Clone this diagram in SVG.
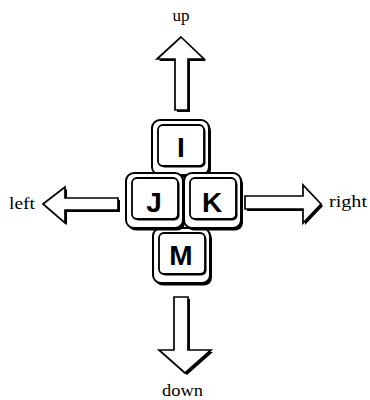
<svg xmlns="http://www.w3.org/2000/svg" xmlns:xlink="http://www.w3.org/1999/xlink" width="370" height="400" viewBox="0 0 370 400">
<style>
.lbl{font-family:"Liberation Serif","Times New Roman",serif;font-size:16.5px;fill:#000}
.key{font-family:"Liberation Sans",Arial,sans-serif;font-weight:bold;font-size:28px;fill:#000;text-anchor:middle}
.arr{fill:#fff;stroke:#000;stroke-width:1.7;stroke-linejoin:miter}
.shd{fill:#000}
</style>
<defs>
<g id="keycap">
<rect x="2" y="2.5" width="57" height="55" rx="8" fill="#000"/>
<rect x="0" y="0" width="57" height="55" rx="8" fill="#fff" stroke="#000" stroke-width="2"/>
<rect x="7.5" y="6.5" width="46" height="41" rx="5" fill="#000"/>
<rect x="6" y="5" width="46" height="41" rx="5" fill="#fff" stroke="#000" stroke-width="1.8"/>
</g>
</defs>
<rect width="370" height="400" fill="#fff"/>
<g id="arrows">
<g id="arrow-up">
<polygon class="shd" points="183,39 206,61 190,61 190,112 177,112 177,61 159,61"/>
<polygon class="arr" points="181,37 204,59 188,59 188,110 175,110 175,59 157,59"/>
</g>
<g id="arrow-down">
<polygon class="shd" points="176,299 190,299 190,352 213,352 187,375 161,352 176,352"/>
<polygon class="arr" points="174,297 188,297 188,350 211,350 185,373 159,350 174,350"/>
</g>
<g id="arrow-left">
<polygon class="shd" points="45,206 67,189 67,200 120,200 120,212 67,212 67,225"/>
<polygon class="arr" points="43,204 65,187 65,198 118,198 118,210 65,210 65,223"/>
</g>
<g id="arrow-right">
<polygon class="shd" points="247,198 305,198 305,187 323,206 305,225 305,211 247,211"/>
<polygon class="arr" points="245,196 303,196 303,185 321,204 303,223 303,209 245,209"/>
</g>
</g>
<g id="key-I"><use xlink:href="#keycap" x="152" y="120"/><text class="key" x="181" y="157">I</text></g>
<g id="key-M"><use xlink:href="#keycap" x="153" y="228"/><text class="key" x="181" y="265">M</text></g>
<g id="key-J"><use xlink:href="#keycap" x="126" y="173"/><text class="key" x="154" y="212">J</text></g>
<g id="key-K"><use xlink:href="#keycap" x="184" y="173"/><text class="key" x="212" y="212">K</text></g>
<g id="labels">
<text class="lbl" x="181" y="21" text-anchor="middle" textLength="17" lengthAdjust="spacingAndGlyphs">up</text>
<text class="lbl" x="9" y="209" textLength="26" lengthAdjust="spacingAndGlyphs">left</text>
<text class="lbl" x="329" y="207" textLength="38" lengthAdjust="spacingAndGlyphs">right</text>
<text class="lbl" x="162" y="396" textLength="41" lengthAdjust="spacingAndGlyphs">down</text>
</g>
</svg>
